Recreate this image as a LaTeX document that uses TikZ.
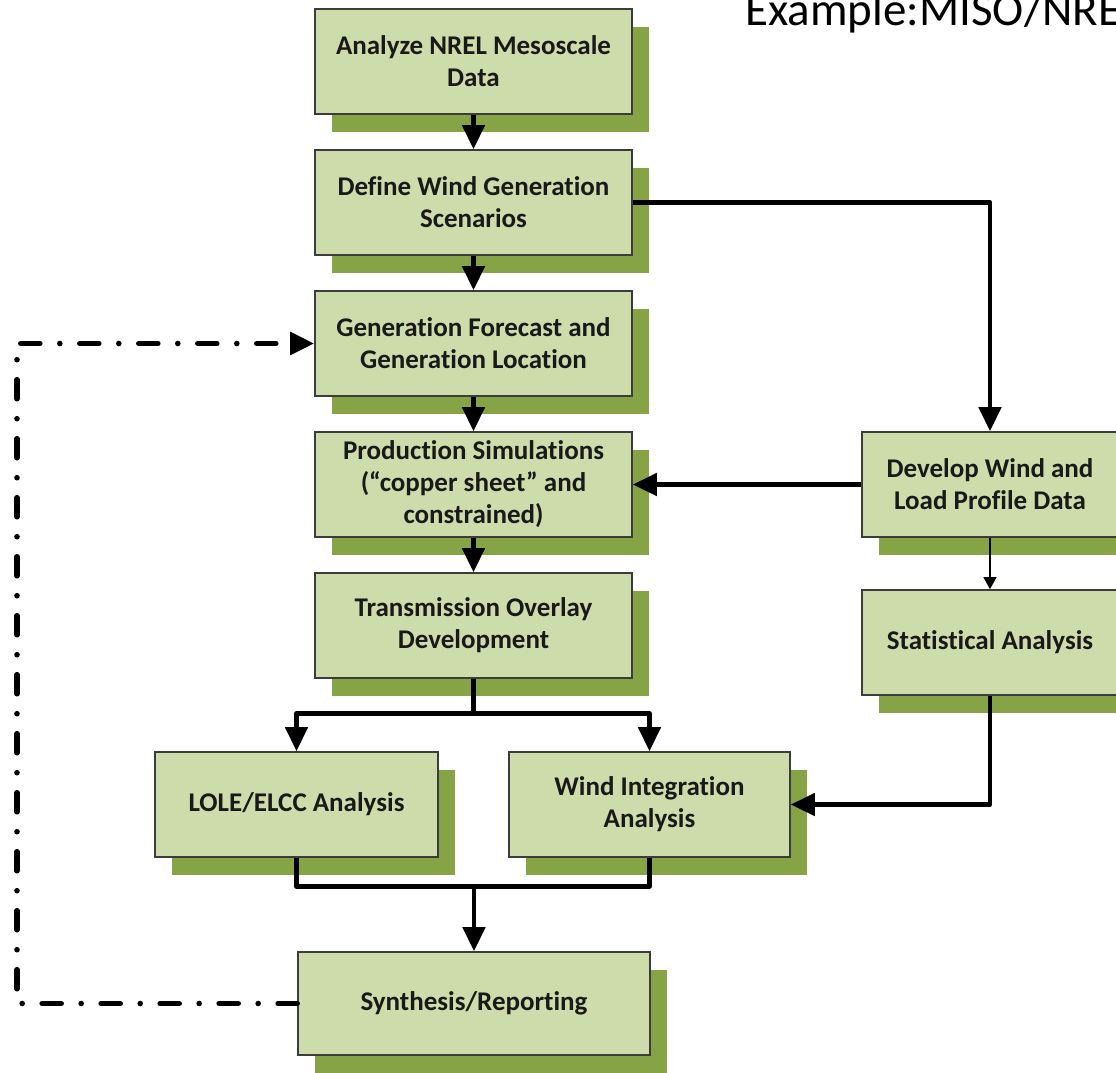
\documentclass[tikz,border=0pt]{standalone}
\usepackage{fontspec}
\setmainfont[Ligatures=NoCommon]{Carlito}
\usetikzlibrary{arrows.meta}
\usetikzlibrary{shadows}
\usetikzlibrary{positioning}

\definecolor{boxgreen}{RGB}{205,220,170}
\definecolor{shadegreen}{RGB}{134,164,70}
\definecolor{boxline}{RGB}{60,60,60}

\begin{document}
\begin{tikzpicture}[x=0.5pt,y=-0.5pt,
    stage/.style={rectangle, draw=boxline, line width=0.8pt, fill=boxgreen,
        minimum width=158.5pt, minimum height=52.5pt, inner sep=2pt, align=center,
        font=\fontsize{13.5}{16}\selectfont\bfseries, text=black!90,
        drop shadow={shadow xshift=8.5pt, shadow yshift=-9pt, fill=shadegreen, opacity=1}},
    flow/.style={line width=2.4pt, line join=round, -{Triangle[width=11pt,length=12pt]}},
    link/.style={line width=2.4pt, line join=round},
    thinflow/.style={line width=0.6pt, -{Triangle[width=6.5pt,length=6pt]}},
    loopback/.style={line width=2.8pt, line cap=round,
        dash pattern=on 9.5pt off 10pt on 0pt off 10pt,
        -{Triangle[width=11pt,length=12pt]}}]
    \useasboundingbox (0,0) rectangle (1116,1073);
    \clip (0,0) rectangle (1116,1073);

    % main column
    \node[stage] (ana) at (473.5,61.5) {Analyze NREL Mesoscale\\Data};
    \node[stage] (def) at (473.5,202.5) {Define Wind Generation\\Scenarios};
    \node[stage] (gen) at (473.5,343.5) {Generation Forecast and\\Generation Location};
    \node[stage] (prod) at (473.5,484.5) {Production Simulations\\(“copper sheet” and\\constrained)};
    \node[stage] (trans) at (473.5,625.5) {Transmission Overlay\\Development};

    % lower row
    \node[stage, minimum width=141.5pt] (lole) at (296.5,804.5) {LOLE/ELCC Analysis};
    \node[stage, minimum width=140.5pt] (wint) at (649.5,804.5) {Wind Integration\\Analysis};
    \node[stage, minimum width=176pt, minimum height=51.5pt] (syn) at (474,1003.5) {Synthesis/Reporting};

    % right column
    \node[stage, minimum width=128pt] (dev) at (990,484.5) {Develop Wind and\\Load Profile Data};
    \node[stage, minimum width=128pt] (stat) at (990,642.5) {Statistical Analysis};

    \node[anchor=base west, inner sep=0pt, font=\fontsize{23.5}{28}\selectfont] (title) at (745,25) {Example:MISO/NREL};

    \coordinate[below=17.5pt of trans] (split);
    \coordinate[above=32.5pt of syn] (merge);
    \coordinate (lft) at (17,0);

    \draw[flow] (ana) -- (def);
    \draw[flow] (def) -- (gen);
    \draw[flow] (gen) -- (prod);
    \draw[flow] (prod) -- (trans);
    \draw[flow] (def.east) -| (dev.north);
    \draw[flow] (dev.west) -- (prod.east);
    \draw[thinflow] (dev) -- (stat);
    \draw[flow] (stat.south) |- (wint.east);

    \draw[link] (trans.south) -- (split);
    \draw[flow] (split) -| (lole.north);
    \draw[flow] (split) -| (wint.north);

    \draw[link] (lole.south) |- (merge) -| (wint.south);
    \draw[flow] (merge) -- (syn);

    \draw[loopback] (syn.west) -- (syn.west -| lft) |- (gen.west);
\end{tikzpicture}
\end{document}
